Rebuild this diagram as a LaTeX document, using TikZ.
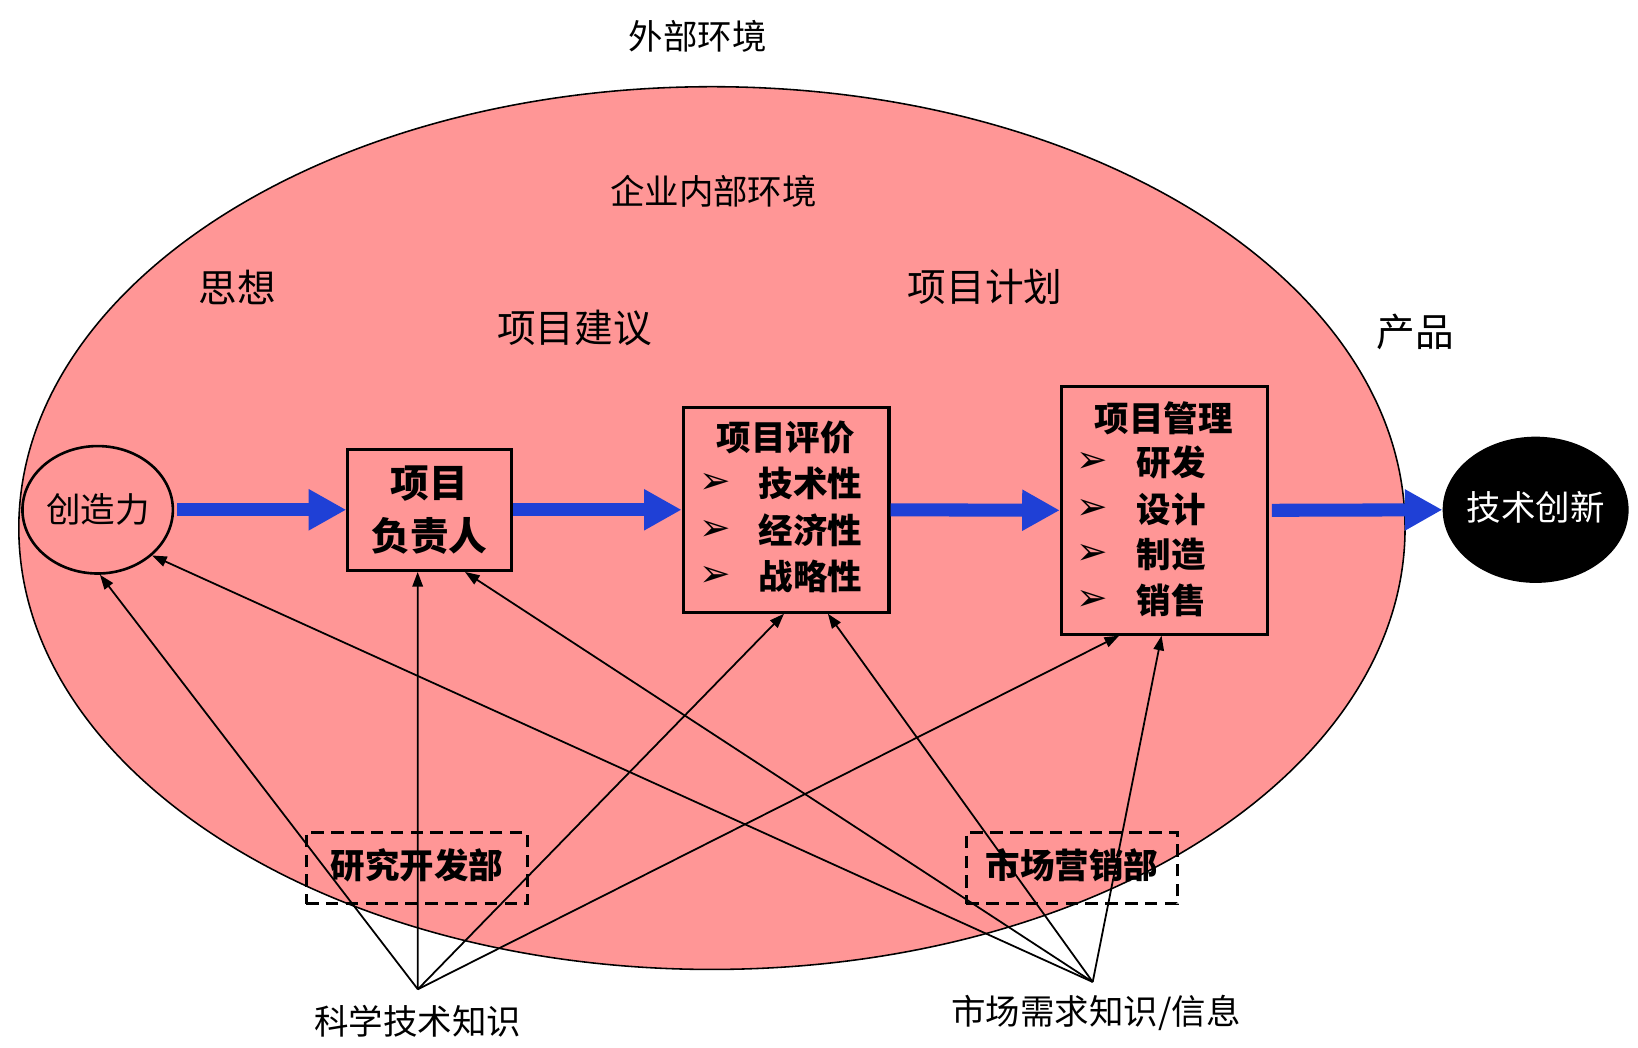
\documentclass[tikz,border=0pt]{standalone}
\usepackage{fontspec}
\setmainfont{Noto Sans CJK SC}
\newfontfamily\dejavu{DejaVu Sans}
\usetikzlibrary{arrows.meta,calc,shapes.geometric}
\definecolor{pinkfill}{RGB}{255,150,150}
\definecolor{flowblue}{RGB}{31,64,214}
\begin{document}
\begin{tikzpicture}[x=1pt,y=-1pt,
  lbl/.style={inner sep=0pt, font=\fontsize{33}{40}\selectfont},
  biglbl/.style={inner sep=0pt, font=\fontsize{37}{44}\selectfont},
  bt/.style={inner sep=0pt, font=\bfseries\fontsize{33}{40}\selectfont},
  btbig/.style={inner sep=0pt, font=\bfseries\fontsize{37}{44}\selectfont},
  bul/.style={inner sep=0pt, font=\dejavu\fontsize{36}{40}\selectfont},
  solidbox/.style={draw, line width=3pt, inner sep=0pt},
  dashbox/.style={draw, line width=3pt, inner sep=0pt, dash pattern=on 12pt off 7pt},
  flow/.style={draw=flowblue, line width=12.5pt, -{Triangle[length=36pt,width=37pt,fill=flowblue]}},
  con/.style={line width=1.7pt, -{Triangle[length=14pt,width=10pt]}}
]
\useasboundingbox (0,0) rectangle (1568,1003);

% environment ellipse
\node[ellipse, draw, line width=1.5pt, fill=pinkfill, inner sep=0pt,
      minimum width=1327pt, minimum height=845pt] (env) at (681.5,505.5) {};

% labels
\node[lbl] (outer) at (668,35) {外部环境};
\node[lbl] (inner) at (683,183) {企业内部环境};
\node[biglbl] (sx) at (227,275) {思想};
\node[biglbl] (xmjy) at (550,314) {项目建议};
\node[biglbl] (xmjh) at (943,275) {项目计划};
\node[biglbl] (cp) at (1355,318) {产品};

% flow nodes
\node[ellipse, draw, line width=2.5pt, inner sep=0pt, minimum width=144pt, minimum height=122pt] (czl) at (93.5,488) {};
\node[lbl] (czlt) at (94,488) {创造力};

\node[solidbox, minimum width=157pt, minimum height=116pt] (fzr) at (411.5,488) {};
\node[btbig] (fzr1) at (411,463) {项目};
\node[btbig] (fzr2) at (411,513) {负责人};

\node[solidbox, minimum width=197pt, minimum height=196pt] (pj) at (752.5,488) {};
\node[bt] (pjt) at (752,419) {项目评价};
\node[bul] (pjb1) at (685,463) {➢};
\node[bt] (pj1) at (776,463) {技术性};
\node[bul] (pjb2) at (685,508) {➢};
\node[bt] (pj2) at (776,508) {经济性};
\node[bul] (pjb3) at (685,552) {➢};
\node[bt] (pj3) at (776,552) {战略性};

\node[solidbox, minimum width=197pt, minimum height=237pt] (gl) at (1114.5,488.5) {};
\node[bt] (glt) at (1114,400) {项目管理};
\node[bul] (glb1) at (1046,443) {➢};
\node[bt] (gl1) at (1121,443) {研发};
\node[bul] (glb2) at (1046,488) {➢};
\node[bt] (gl2) at (1121,488) {设计};
\node[bul] (glb3) at (1046,531) {➢};
\node[bt] (gl3) at (1121,531) {制造};
\node[bul] (glb4) at (1046,575) {➢};
\node[bt] (gl4) at (1121,575) {销售};

\node[ellipse, fill=black, inner sep=0pt, minimum width=178pt, minimum height=140pt] (jscx) at (1470,488) {};
\node[lbl, text=white] (jscxt) at (1470,486) {技术创新};

% dashed department boxes
\node[dashbox, minimum width=212pt, minimum height=68pt] (yf) at (399,831) {};
\node[bt] (yft) at (399,828) {研究开发部};
\node[dashbox, minimum width=202pt, minimum height=68pt] (sc) at (1026,831) {};
\node[bt] (sct) at (1026,828) {市场营销部};

% knowledge sources
\coordinate (s1) at (400,947);
\coordinate (s2) at (1046,940);
\node[lbl] (kx) at (400,978) {科学技术知识};
\node[lbl] (sx2) at (1049,970) {市场需求知识/信息};

% blue flow arrows
\draw[flow, shorten <=3pt] (czl.east) -- (fzr.west);
\draw[flow] (fzr.east) -- (pj.west);
\draw[flow] (pj.east) -- (gl.west);
\draw[flow, shorten <=3pt] (gl.east) -- (jscx.west);

% connectors
\draw[con] (s1) -- (czl.-88);
\draw[con] (s1) -- ($(fzr.south west)!0.427!(fzr.south east)$);
\draw[con] (s1) -- ($(pj.south west)!0.49!(pj.south east)$);
\draw[con] (s1) -- ($(gl.south west)!0.284!(gl.south east)$);
\draw[con] (s2) -- (czl.-40);
\draw[con] (s2) -- ($(fzr.south west)!0.71!(fzr.south east)$);
\draw[con] (s2) -- ($(pj.south west)!0.70!(pj.south east)$);
\draw[con] (s2) -- ($(gl.south west)!0.487!(gl.south east)$);
\end{tikzpicture}
\end{document}
